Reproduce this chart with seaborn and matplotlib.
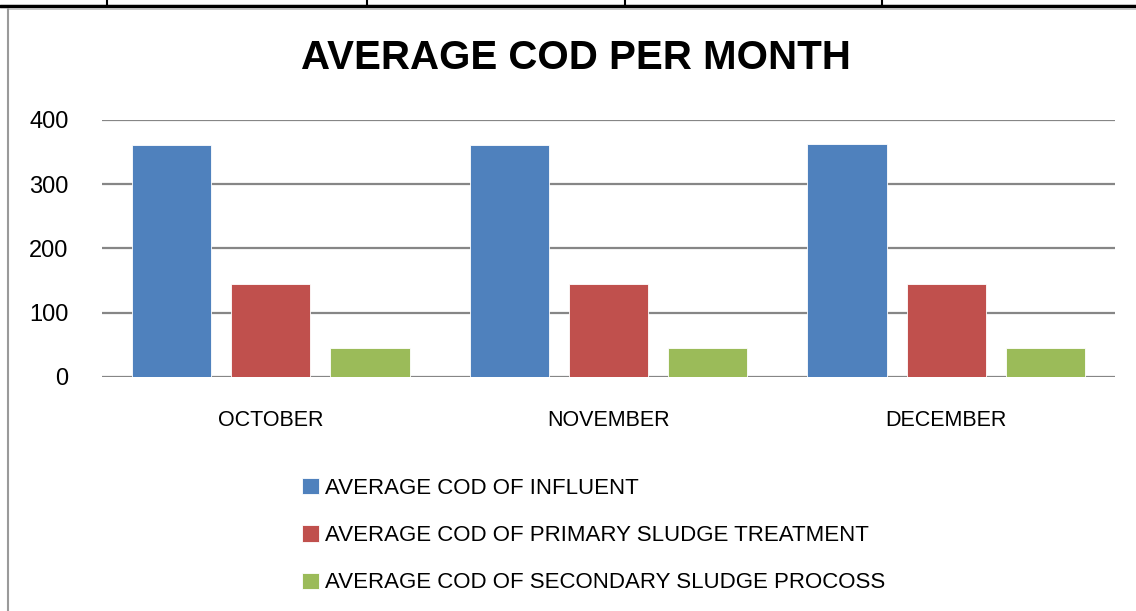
import matplotlib
matplotlib.use('Agg')
import matplotlib.pyplot as plt
import pandas as pd
import seaborn as sns
from matplotlib.lines import Line2D

# values
months = ['OCTOBER', 'NOVEMBER', 'DECEMBER']
series_names = ['AVERAGE COD OF INFLUENT',
                'AVERAGE COD OF PRIMARY SLUDGE TREATMENT',
                'AVERAGE COD OF SECONDARY SLUDGE PROCOSS']
influent = [361, 361, 362]
primary = [144, 145, 144]
secondary = [44, 45, 44]
colors = ['#4F81BD', '#C0504D', '#9BBB59']

df = pd.DataFrame({
    'month': months * 3,
    'series': [s for s in series_names for _ in months],
    'cod': influent + primary + secondary,
})

sns.set_style('white')
plt.rcParams['font.family'] = ['Liberation Sans', 'DejaVu Sans']
plt.rcParams['text.color'] = 'black'

W, H = 1136, 611
fig = plt.figure(figsize=(W / 100, H / 100), dpi=100)
ax = fig.add_axes([102 / W, 1 - 376.7 / H, (1115 - 102) / W, (376.7 - 120) / H])

sns.barplot(data=df, x='month', y='cod', hue='series', palette=colors, saturation=1,
            width=0.88, gap=0.2, edgecolor='white', linewidth=0.6, ax=ax)

ax.set_xlim(-0.5, 2.5)
ax.set_ylim(0, 400)
ax.set_yticks(range(0, 401, 100))
ax.yaxis.grid(True, color='#868686', lw=1.6)
ax.set_axisbelow(True)
for s in ax.spines.values():
    s.set_visible(False)
ax.set_xlabel('')
ax.set_ylabel('')
ax.tick_params(axis='y', length=0, pad=24, labelsize=17, labelcolor='black')
ax.tick_params(axis='x', length=0, pad=24, labelsize=15.5, labelcolor='black')

handles, labels = ax.get_legend_handles_labels()
leg = ax.legend(handles, labels, loc='upper left', bbox_to_anchor=(282 / W, 1 - 458 / H),
                bbox_transform=fig.transFigure, frameon=False, fontsize=16,
                handlelength=0.75, handleheight=0.75, handletextpad=0.3, labelspacing=1.18)
for t in leg.get_texts():
    t.set_color('black')

fig.text(576 / W, 1 - 58 / H, 'AVERAGE COD PER MONTH', ha='center', va='center',
         fontsize=29, fontweight='bold', color='black')

# page/table border bits around the chart
fig.add_artist(Line2D([0, 1], [1 - 6 / H] * 2, color='black', lw=2.5, transform=fig.transFigure))
for x in [107, 367, 625, 882]:
    fig.add_artist(Line2D([x / W] * 2, [1 - 6 / H, 1], color='black', lw=1.5, transform=fig.transFigure))
fig.add_artist(Line2D([8 / W, 1], [1 - 9 / H] * 2, color='#bdbdbd', lw=1.2, transform=fig.transFigure))
fig.add_artist(Line2D([8 / W] * 2, [0, 1 - 9 / H], color='#9a9a9a', lw=1.5, transform=fig.transFigure))

fig.savefig('out.png', dpi=100)
